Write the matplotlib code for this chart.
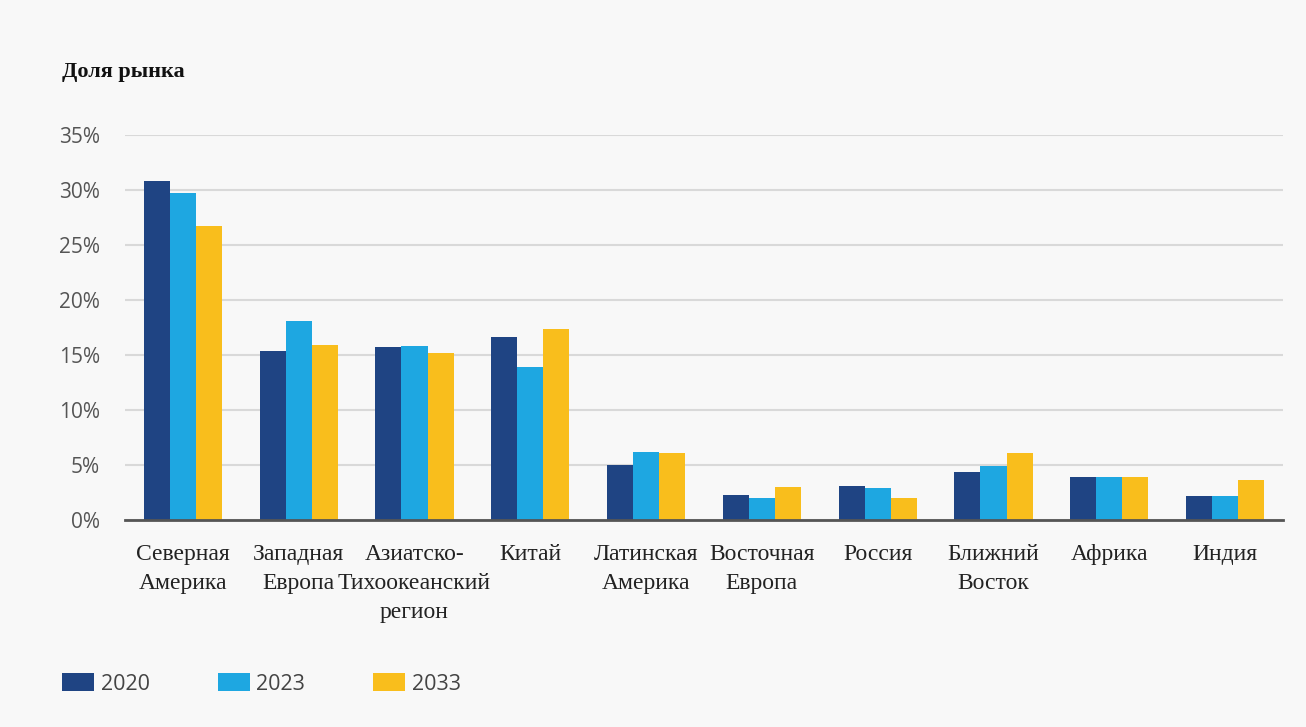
import numpy as np
import matplotlib.pyplot as plt

#%% Data
Categories = ["Северная\nАмерика", "Западная\nЕвропа", "Азиатско-\nТихоокеанский\nрегион",
              "Китай", "Латинская\nАмерика", "Восточная\nЕвропа", "Россия",
              "Ближний\nВосток", "Африка", "Индия"]

Share_2020 = [30.8, 15.4, 15.7, 16.6, 5.0, 2.3, 3.1, 4.4, 3.9, 2.2]
Share_2023 = [29.7, 18.1, 15.8, 13.9, 6.2, 2.0, 2.9, 4.9, 3.9, 2.2]
Share_2033 = [26.7, 15.9, 15.2, 17.4, 6.1, 3.0, 2.0, 6.1, 3.9, 3.6]

Years = ["2020", "2023", "2033"]

YTicks = [0, 5, 10, 15, 20, 25, 30, 35]
YTickLabels = ["%i%%" % t for t in YTicks]

#%% Style
Colors = ["#1f4483", "#1ea7e1", "#f9be1c"]
BG = "#f8f8f8"
FontNarrow = ["Open Sans", "DejaVu Sans"]
FontSerif = ["Liberation Serif", "DejaVu Serif"]

Bar_Width = 0.225

Fig = plt.figure(figsize=[13.06, 7.27], dpi=100, facecolor=BG)
ax = Fig.add_axes([125 / 1306, 1 - 520 / 727, (1283 - 125) / 1306, (520 - 135) / 727])
ax.set_facecolor(BG)

x = np.arange(len(Categories))
Series = [Share_2020, Share_2023, Share_2033]
for i, (vals, color, year) in enumerate(zip(Series, Colors, Years)):
    ax.bar(x + (i - 1) * Bar_Width, vals, width=Bar_Width, color=color, label=year, zorder=3)

ax.set_xlim(-0.5, len(Categories) - 0.5)
ax.set_ylim(0, 35)
ax.set_yticks(YTicks)
ax.set_yticklabels(YTickLabels, fontsize=15, family=FontNarrow, color="#555555")
ax.set_xticks(x)
ax.set_xticklabels(Categories, fontsize=17, family=FontSerif, color="#222222", linespacing=1.5)
ax.tick_params(axis="x", length=0, pad=17)
ax.tick_params(axis="y", length=0, pad=18)

ax.grid(axis="y", color="#d9d9d9", linewidth=1.5, zorder=0)
for s in ["top", "right", "left"]:
    ax.spines[s].set_visible(False)
ax.spines["bottom"].set_color("#555555")
ax.spines["bottom"].set_linewidth(2)
ax.spines["bottom"].set_zorder(4)

# title
Fig.text(62 / 1306, 1 - 72 / 727, "Доля рынка", fontsize=16, fontweight="bold",
         family=FontSerif, color="#111111", va="center", ha="left")

# legend
Handles, Labels = ax.get_legend_handles_labels()
leg = Fig.legend(Handles, Labels, loc="center left", bbox_to_anchor=(62 / 1306, 1 - 684 / 727),
                 ncol=3, frameon=False, handlelength=1.5, handleheight=0.85,
                 columnspacing=3.15, handletextpad=0.3, borderpad=0, borderaxespad=0,
                 prop={"family": FontNarrow, "size": 15.5})
for t in leg.get_texts():
    t.set_color("#444444")

plt.savefig("out.png", dpi=100, facecolor=BG)
